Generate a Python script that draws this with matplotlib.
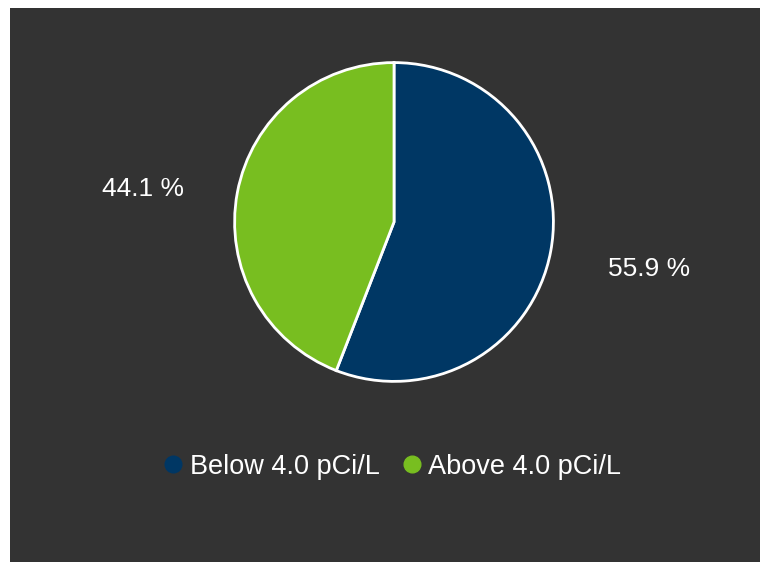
import matplotlib
matplotlib.use("Agg")
import matplotlib.pyplot as plt
from matplotlib.lines import Line2D
from matplotlib.patches import Rectangle

# data
labels = ["Below 4.0 pCi/L", "Above 4.0 pCi/L"]
shares = [55.9, 44.1]
colors = ["#003764", "#78BE20"]

plt.rcParams["font.family"] = ["Liberation Sans", "DejaVu Sans"]

fig = plt.figure(figsize=(7.63, 5.62), dpi=100)
fig.patch.set_facecolor("white")
# dark panel behind everything
fig.patches.append(Rectangle((10 / 763, 0), 750 / 763, 554 / 562,
                             transform=fig.transFigure, facecolor="#333333",
                             edgecolor="none", zorder=-10))

ax = fig.add_axes([0.3054, 0.3185, 0.4220, 0.5730])
ax.set_zorder(5)
wedges, texts, autotexts = ax.pie(
    shares, colors=colors, startangle=90, counterclock=False,
    autopct=lambda p: f"{p:.1f} %", pctdistance=1.6,
    wedgeprops=dict(edgecolor="white", linewidth=2),
    textprops=dict(color="white", fontsize=19),
)
# nudge the outside labels a little, like the original layout
x, y = autotexts[1].get_position()
autotexts[1].set_position((x, y - 0.09))
x, y = autotexts[0].get_position()
autotexts[0].set_position((x + 0.03, y))

ax.set_xlim(-1.01, 1.01)
ax.set_ylim(-1.01, 1.01)
ax.set_aspect("equal")
ax.set_facecolor("none")

handles = [Line2D([], [], marker="o", linestyle="none", markersize=12,
                  markerfacecolor=c, markeredgecolor=c) for c in colors]
leg = fig.legend(handles, labels, loc="center", bbox_to_anchor=(0.512, 0.1695),
                 ncol=2, frameon=False, fontsize=19.5, handletextpad=0.1,
                 columnspacing=0.7, handlelength=1.0)
for t in leg.get_texts():
    t.set_color("white")

fig.savefig("out.png", dpi=100, facecolor=fig.get_facecolor())
